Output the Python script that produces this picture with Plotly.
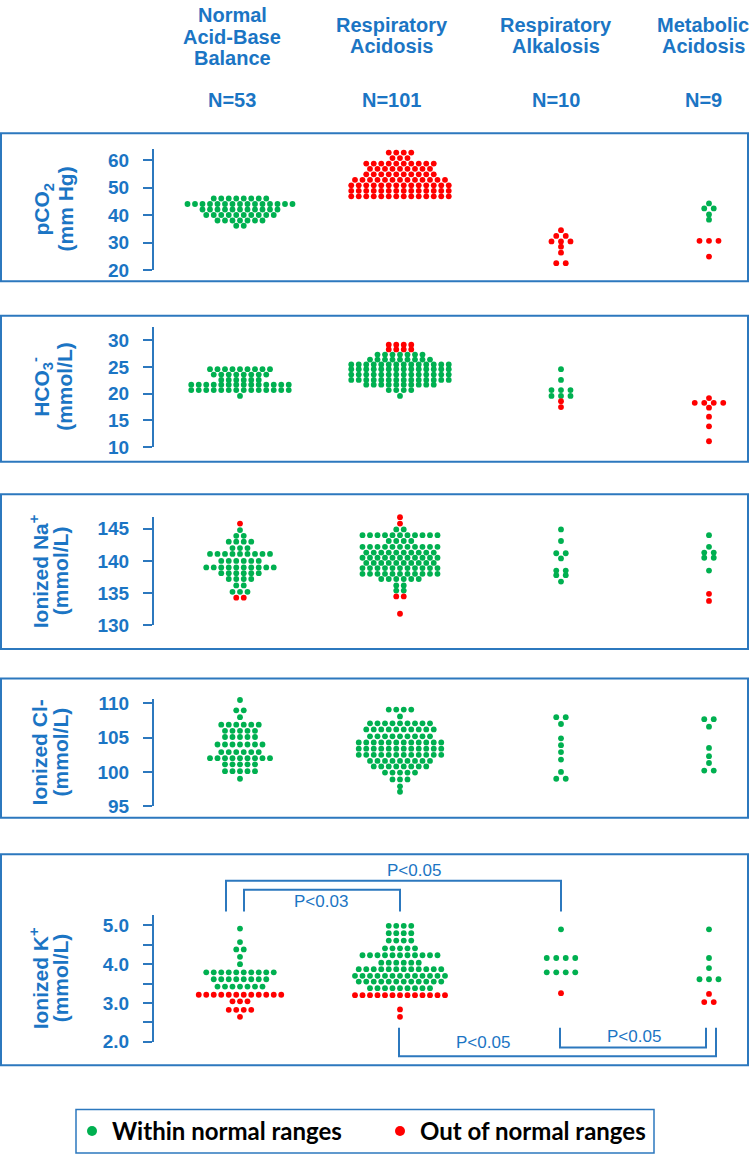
import plotly.graph_objects as go

W, H = 750, 1165

# ---------------- data ----------------
HEADER_LINES = [["Normal", "Acid-Base", "Balance"], ["Respiratory", "Acidosis"],
                ["Respiratory", "Alkalosis"], ["Metabolic", "Acidosis"]]
GROUP_N = [53, 101, 10, 9]

# rows: (group index, value, number of patients, "in" = within normal / "out" = out of normal)
PCO2_ROWS = [
    (0, 46.1, 8, "in"), (0, 44.1, 15, "in"), (0, 42.1, 11, "in"), (0, 40.1, 10, "in"), (0, 38.1, 7, "in"), (0, 36.2, 2, "in"),
    (1, 64.6, 4, "out"), (1, 62.8, 4, "out"), (1, 60.8, 3, "out"), (1, 58.8, 10, "out"), (1, 56.9, 9, "out"),
    (1, 54.9, 10, "out"), (1, 52.9, 13, "out"), (1, 50.9, 14, "out"), (1, 48.9, 14, "out"), (1, 46.9, 14, "out"),
    (2, 34.6, 1, "out"), (2, 32.5, 2, "out"), (2, 30.5, 3, "out"), (2, 28.6, 1, "out"), (2, 26.4, 1, "out"), (2, 22.6, 2, "out"),
    (3, 44.3, 1, "in"), (3, 42.5, 2, "in"), (3, 40.3, 1, "in"), (3, 38.4, 1, "in"), (3, 30.7, 3, "out"), (3, 25.0, 1, "out"),
]
HCO3_ROWS = [
    (0, 24.6, 9, "in"), (0, 23.6, 8, "in"), (0, 22.6, 6, "in"), (0, 21.7, 14, "in"), (0, 20.7, 14, "in"), (0, 19.6, 1, "in"),
    (1, 29.2, 4, "out"), (1, 28.3, 4, "out"), (1, 27.35, 7, "in"), (1, 26.4, 9, "in"), (1, 25.5, 14, "in"),
    (1, 24.6, 14, "in"), (1, 23.6, 14, "in"), (1, 22.6, 14, "in"), (1, 21.7, 10, "in"), (1, 20.7, 4, "in"), (1, 19.6, 1, "in"),
    (2, 24.6, 1, "in"), (2, 22.6, 1, "in"), (2, 20.7, 3, "in"), (2, 19.6, 3, "in"), (2, 18.6, 1, "out"), (2, 17.5, 1, "out"),
    (3, 19.2, 1, "out"), (3, 18.3, 4, "out"), (3, 17.4, 1, "out"), (3, 15.7, 1, "out"), (3, 13.9, 1, "out"), (3, 11.1, 1, "out"),
]
NA_ROWS = [
    (0, 145.8, 1, "out"), (0, 144.8, 1, "in"), (0, 143.9, 2, "in"), (0, 143.0, 4, "in"), (0, 142.0, 3, "in"),
    (0, 141.1, 9, "in"), (0, 140.0, 6, "in"), (0, 139.0, 10, "in"), (0, 138.1, 6, "in"), (0, 137.2, 4, "in"),
    (0, 136.2, 2, "in"), (0, 135.2, 3, "in"), (0, 134.3, 2, "out"),
    (1, 146.8, 1, "out"), (1, 145.8, 1, "out"), (1, 144.9, 2, "in"), (1, 144.0, 11, "in"), (1, 143.1, 4, "in"),
    (1, 142.2, 11, "in"), (1, 141.3, 10, "in"), (1, 140.5, 11, "in"), (1, 139.7, 10, "in"), (1, 138.9, 11, "in"),
    (1, 138.0, 11, "in"), (1, 137.2, 6, "in"), (1, 136.2, 2, "in"), (1, 135.4, 2, "in"), (1, 134.5, 2, "out"), (1, 131.8, 1, "out"),
    (2, 144.9, 1, "in"), (2, 143.1, 1, "in"), (2, 141.2, 2, "in"), (2, 140.4, 1, "in"), (2, 138.5, 2, "in"), (2, 137.8, 2, "in"), (2, 136.8, 1, "in"),
    (3, 144.0, 1, "in"), (3, 142.2, 1, "in"), (3, 141.3, 2, "in"), (3, 140.5, 2, "in"), (3, 138.5, 1, "in"), (3, 134.9, 1, "out"), (3, 133.8, 1, "out"),
]
CL_ROWS = [
    (0, 110.5, 1, "in"), (0, 109.0, 2, "in"), (0, 108.0, 1, "in"), (0, 106.9, 6, "in"), (0, 106.0, 5, "in"), (0, 105.1, 5, "in"),
    (0, 104.0, 7, "in"), (0, 102.9, 6, "in"), (0, 102.0, 9, "in"), (0, 101.1, 5, "in"), (0, 100.1, 5, "in"), (0, 99.0, 1, "in"),
    (1, 109.1, 4, "in"), (1, 108.1, 1, "in"), (1, 107.1, 9, "in"), (1, 106.2, 10, "in"), (1, 105.2, 9, "in"), (1, 104.3, 12, "in"),
    (1, 103.4, 12, "in"), (1, 102.5, 12, "in"), (1, 101.6, 9, "in"), (1, 100.8, 8, "in"), (1, 99.9, 5, "in"), (1, 98.9, 3, "in"),
    (1, 97.9, 1, "in"), (1, 97.1, 1, "in"),
    (2, 108.0, 2, "in"), (2, 107.0, 1, "in"), (2, 104.9, 1, "in"), (2, 103.9, 1, "in"), (2, 102.9, 1, "in"), (2, 101.8, 1, "in"),
    (2, 100.0, 1, "in"), (2, 99.0, 2, "in"),
    (3, 110.9, 1, "in"), (3, 107.7, 2, "in"), (3, 106.6, 1, "in"), (3, 103.5, 1, "in"), (3, 102.3, 1, "in"), (3, 101.3, 1, "in"), (3, 100.2, 2, "in"),
]
K_ROWS = [
    (0, 4.92, 1, "in"), (0, 4.57, 1, "in"), (0, 4.38, 2, "in"), (0, 4.19, 1, "in"), (0, 4.0, 1, "in"), (0, 3.79, 10, "in"),
    (0, 3.61, 8, "in"), (0, 3.42, 7, "in"), (0, 3.21, 12, "out"), (0, 3.04, 3, "out"), (0, 2.82, 4, "out"), (0, 2.64, 1, "out"),
    (1, 4.99, 4, "in"), (1, 4.80, 4, "in"), (1, 4.61, 4, "in"), (1, 4.41, 5, "in"), (1, 4.23, 11, "in"), (1, 4.04, 6, "in"),
    (1, 3.87, 12, "in"), (1, 3.70, 13, "in"), (1, 3.55, 12, "in"), (1, 3.38, 9, "in"), (1, 3.20, 13, "out"), (1, 2.83, 1, "out"), (1, 2.64, 1, "out"),
    (2, 4.90, 1, "in"), (2, 4.16, 4, "in"), (2, 3.79, 4, "in"), (2, 3.25, 1, "out"),
    (3, 4.90, 1, "in"), (3, 4.16, 1, "in"), (3, 3.90, 1, "in"), (3, 3.61, 3, "in"), (3, 3.23, 1, "out"), (3, 3.02, 2, "out"),
]

PANEL_ROWS = [PCO2_ROWS, HCO3_ROWS, NA_ROWS, CL_ROWS, K_ROWS]
PANEL_TITLE_LINES = [["pCO<sub>2</sub>", "(mm Hg)"], ["HCO<sub>3</sub><sup>-</sup>", "(mmol/L)"],
                     ["Ionized Na<sup>+</sup>", "(mmol/L)"], ["Ionized Cl-", "(mmol/L)"],
                     ["Ionized K<sup>+</sup>", "(mmol/L)"]]
PANEL_RANGES = [[20, 64.2], [10, 32.6], [130, 146.8], [95, 110.7], [2, 5.27]]
PANEL_TICKS = [[20, 30, 40, 50, 60], [10, 15, 20, 25, 30], [130, 135, 140, 145], [95, 100, 105, 110], [2, 3, 4, 5]]
PANEL_TICKFORMAT = ["d", "d", "d", "d", ".1f"]

LEGEND_NAMES = ["Within normal ranges", "Out of normal ranges"]
P_LABELS = ["P<0.05", "P<0.03", "P<0.05", "P<0.05"]

# ---------------- layout / style (pixels) ----------------
GROUP_X = [240, 400, 561, 709]
GROUP_STEP = [7.5, 7.5, 9.5, 9.5]
HEADER_X = [232, 392, 556, 703]
X0, X1 = 154, 748
AXIS_PX = [(145.7, 269.0), (326.0, 448.3), (519.3, 629.0), (703.3, 812.3), (922.7, 1051.0)]
BOX_PX = [(130, 280), (315, 463), (496, 653), (683, 824), (861, 1075)]
TITLE_X = [(43, 66), (42, 65), (39, 60), (39, 60), (39, 60)]

TXT = "#1B75C4"
LINE = "#2C78BE"
GREEN = "#00B050"
RED = "#FF0000"
FONT = "Liberation Sans, Arial, sans-serif"


def py(p):
    return 1 - p / H


def px(p):
    return p / W


fig = go.Figure()
layout = {}
for i, rows in enumerate(PANEL_ROWS):
    sfx = "" if i == 0 else str(i + 1)
    pts = {"in": ([], []), "out": ([], [])}
    for g, v, n, s in rows:
        for k in range(n):
            pts[s][0].append(GROUP_X[g] + (k - (n - 1) / 2) * GROUP_STEP[g])
            pts[s][1].append(v)
    for s, col in (("in", GREEN), ("out", RED)):
        fig.add_trace(go.Scatter(x=pts[s][0], y=pts[s][1], mode="markers", xaxis="x" + sfx, yaxis="y" + sfx,
                                 marker=dict(color=col, size=5.8, line=dict(width=0)), showlegend=False,
                                 cliponaxis=False, hoverinfo="y"))
    top, bot = AXIS_PX[i]
    layout["xaxis" + sfx] = dict(domain=[px(X0), px(X1)], range=[X0, X1], visible=False,
                                 anchor="y" + sfx, fixedrange=True)
    yax = dict(domain=[py(bot), py(top)], range=PANEL_RANGES[i], anchor="x" + sfx,
               tickvals=PANEL_TICKS[i], tickformat=PANEL_TICKFORMAT[i],
               showline=True, linecolor=LINE, linewidth=2, ticks="outside", ticklen=9,
               tickwidth=2, tickcolor=LINE, ticklabelstandoff=10,
               tickfont=dict(family=FONT, size=19, color=TXT, weight="bold"),
               showgrid=False, zeroline=False, fixedrange=True)
    if i == 4:
        yax["minor"] = dict(dtick=0.5, tick0=2, ticks="outside", ticklen=9, tickwidth=2,
                            tickcolor=LINE, showgrid=False)
    layout["yaxis" + sfx] = yax

# legend entries
for name, col in zip(LEGEND_NAMES, (GREEN, RED)):
    fig.add_trace(go.Scatter(x=[None], y=[None], mode="markers", name=name,
                             marker=dict(color=col, size=10)))

shapes = []
for (t, b) in BOX_PX:
    shapes.append(dict(type="rect", xref="paper", yref="paper", x0=px(1), x1=px(748), y0=py(b), y1=py(t),
                       line=dict(color=LINE, width=2), layer="below"))
# legend box
shapes.append(dict(type="rect", xref="paper", yref="paper", x0=px(76), x1=px(654), y0=py(1164), y1=py(1120),
                   line=dict(color=LINE, width=1.5)))

# significance brackets (K panel)
BRACKETS = [
    # (x start, x end, bar y, leg end y, label x, label y)
    (GROUP_X[0] - 14, GROUP_X[2], 888, 919, 414, 878),
    (GROUP_X[0] + 4, GROUP_X[1], 897, 919, 321, 909),
    (GROUP_X[1] - 1, GROUP_X[3] + 7, 1066, 1037, 483, 1052),
    (GROUP_X[2] - 1, GROUP_X[3] - 3, 1057, 1037, 634, 1046),
]
annotations = []
for (xa, xb, yb, yl, lx, ly), lab in zip(BRACKETS, P_LABELS):
    shapes.append(dict(type="path", xref="x5", yref="paper",
                       path=f"M {xa},{py(yl)} L {xa},{py(yb)} L {xb},{py(yb)} L {xb},{py(yl)}",
                       line=dict(color=LINE, width=2)))
    annotations.append(dict(x=lx, y=py(ly), xref="x5", yref="paper", text=lab.replace("<", "&lt;"),
                            showarrow=False, xanchor="center", yanchor="middle",
                            font=dict(family=FONT, size=17, color=TXT)))

# headers
for gx, lines, n in zip(HEADER_X, HEADER_LINES, GROUP_N):
    y0 = 10 if len(lines) == 3 else 20
    for j, ln in enumerate(lines):
        annotations.append(dict(x=px(gx), y=py(y0 + 22 * j), xref="paper", yref="paper", text=f"<b>{ln}</b>",
                                showarrow=False, xanchor="center", yanchor="middle",
                                font=dict(family=FONT, size=20, color=TXT)))
    annotations.append(dict(x=px(gx), y=py(96), xref="paper", yref="paper", text=f"<b>N={n}</b>",
                            showarrow=False, xanchor="center", yanchor="middle",
                            font=dict(family=FONT, size=20, color=TXT)))

# axis titles
for i, lines in enumerate(PANEL_TITLE_LINES):
    top, bot = AXIS_PX[i]
    for j, ln in enumerate(lines):
        annotations.append(dict(x=px(TITLE_X[i][j]), y=py((top + bot) / 2), xref="paper", yref="paper",
                                text=f"<b>{ln}</b>", textangle=-90, showarrow=False,
                                xanchor="center", yanchor="middle",
                                font=dict(family=FONT, size=21, color=TXT)))

fig.update_layout(
    width=W, height=H, margin=dict(l=0, r=0, t=0, b=0),
    paper_bgcolor="white", plot_bgcolor="white",
    shapes=shapes, annotations=annotations,
    showlegend=True,
    legend=dict(orientation="h", x=px(72), xanchor="left", y=py(1142), yanchor="middle",
                entrywidth=263, entrywidthmode="pixels", bgcolor="rgba(0,0,0,0)", borderwidth=0,
                font=dict(family="Lato, Carlito, sans-serif", size=24, color="black", weight="bold")),
    **layout,
)

fig.write_html("out.html", config={"displayModeBar": False},
               post_script="document.body.style.margin='0px';document.body.style.overflow='hidden';")
